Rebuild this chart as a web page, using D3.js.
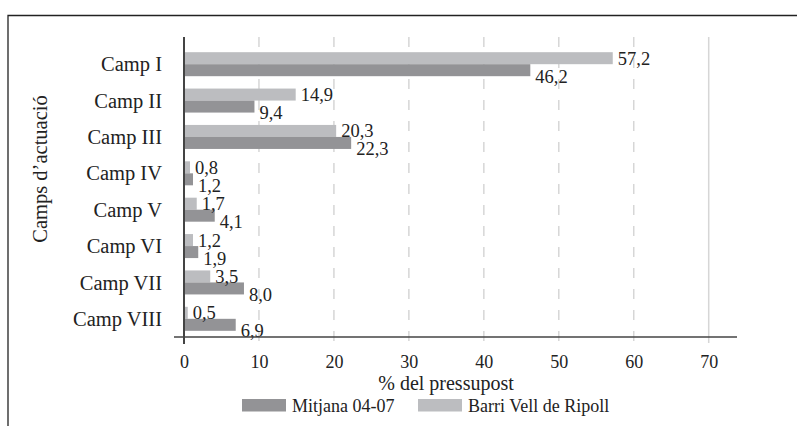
<!DOCTYPE html>
<meta charset="UTF-8"/>
<style>
  body { margin: 0; background: #fff; }
  * { font-family: 'Liberation Serif', 'Times New Roman', serif; }
</style>
<svg width="797" height="426" font-family="'Liberation Serif', serif"></svg>
<script src="https://d3js.org/d3.v7.min.js"></script>
<script>
var categories = ["Camp I", "Camp II", "Camp III", "Camp IV", "Camp V", "Camp VI", "Camp VII", "Camp VIII"];
var barriVell = [57.2, 14.9, 20.3, 0.8, 1.7, 1.2, 3.5, 0.5];
var mitjana = [46.2, 9.4, 22.3, 1.2, 4.1, 1.9, 8.0, 6.9];
var xTicks = [0, 10, 20, 30, 40, 50, 60, 70];
var seriesNames = ["Barri Vell de Ripoll", "Mitjana 04-07"];
var colors = {"Barri Vell de Ripoll": "#bcbdc0", "Mitjana 04-07": "#939396"};

var svg = d3.select("svg");

// frame (top + left edge only visible)
svg.append("path")
    .attr("d", "M8,426V15.5H797")
    .attr("fill", "none")
    .attr("stroke", "#222")
    .attr("stroke-width", 1.3);

var x = d3.scaleLinear().domain([0, 70]).range([184, 708.7]);
var y = d3.scaleBand().domain(categories).range([46, 337])
    .paddingInner(0.34).paddingOuter(0.17);
var ySub = d3.scaleBand().domain(seriesNames).range([0, y.bandwidth()]);

var fmt = function(v) { return d3.format(".1f")(v).replace(".", ","); };

// gridlines
svg.append("g").selectAll("line")
    .data(xTicks.slice(1))
  .enter().append("line")
    .attr("x1", function(d) { return x(d); })
    .attr("x2", function(d) { return x(d); })
    .attr("y1", 37)
    .attr("y2", 343)
    .attr("stroke", "#d6d6d6")
    .attr("stroke-width", 1.5)
    .attr("stroke-dasharray", function(d) { return d === 70 ? null : "10,11"; });

var rows = categories.map(function(c, i) {
  return {cat: c, values: [
    {key: seriesNames[0], value: barriVell[i]},
    {key: seriesNames[1], value: mitjana[i]}
  ]};
});

var grp = svg.append("g").selectAll("g")
    .data(rows)
  .enter().append("g")
    .attr("transform", function(d) { return "translate(0," + y(d.cat) + ")"; });

grp.selectAll("rect")
    .data(function(d) { return d.values; })
  .enter().append("rect")
    .attr("x", x(0))
    .attr("y", function(d) { return ySub(d.key); })
    .attr("width", function(d) { return x(d.value) - x(0); })
    .attr("height", ySub.bandwidth())
    .attr("fill", function(d) { return colors[d.key]; });

grp.selectAll("text.val")
    .data(function(d) { return d.values; })
  .enter().append("text")
    .attr("class", "val")
    .attr("x", function(d) { return x(d.value) + 5; })
    .attr("y", function(d, i) { return ySub(d.key) + ySub.bandwidth() / 2 + (i === 0 ? 0 : 6); })
    .attr("dy", "0.35em")
    .style("font-size", "18.5px")
    .attr("fill", "#222")
    .text(function(d) { return fmt(d.value); });

// category labels
svg.append("g").selectAll("text")
    .data(categories)
  .enter().append("text")
    .attr("x", 162)
    .attr("y", function(d) { return y(d) + y.bandwidth() / 2; })
    .attr("dy", "0.35em")
    .attr("text-anchor", "end")
    .style("font-size", "20.5px")
    .attr("fill", "#222")
    .text(function(d) { return d; });

// axes lines
svg.append("line")
    .attr("x1", 174).attr("x2", 737)
    .attr("y1", 337).attr("y2", 337)
    .attr("stroke", "#444").attr("stroke-width", 1.6);
svg.append("line")
    .attr("x1", x(0)).attr("x2", x(0))
    .attr("y1", 37).attr("y2", 344)
    .attr("stroke", "#444").attr("stroke-width", 2);

// tick labels
var xAxis = svg.append("g")
    .attr("transform", "translate(0,337)")
    .call(d3.axisBottom(x).tickValues(xTicks).tickSize(0).tickFormat(d3.format("d")))
    .attr("font-family", null)
    .attr("font-size", null);
xAxis.select(".domain").remove();
xAxis.selectAll("text")
    .attr("y", 31)
    .attr("dy", 0)
    .style("font-size", "18px")
    .style("font-family", "'Liberation Serif', serif")
    .attr("fill", "#222");

// axis titles
svg.append("text")
    .attr("x", 446)
    .attr("y", 390)
    .attr("text-anchor", "middle")
    .style("font-size", "20px")
    .attr("fill", "#222")
    .text("% del pressupost");

svg.append("text")
    .attr("transform", "translate(47,169) rotate(-90)")
    .attr("text-anchor", "middle")
    .style("font-size", "20.5px")
    .attr("fill", "#222")
    .text("Camps d\u2019actuació");

// legend
var legendItems = [
  {key: "Mitjana 04-07", x: 242},
  {key: "Barri Vell de Ripoll", x: 418}
];
var leg = svg.append("g").selectAll("g")
    .data(legendItems)
  .enter().append("g")
    .attr("transform", function(d) { return "translate(" + d.x + ",399)"; });
leg.append("rect")
    .attr("width", 44)
    .attr("height", 12.5)
    .attr("fill", function(d) { return colors[d.key]; });
leg.append("text")
    .attr("x", 50)
    .attr("y", 13)
    .style("font-size", "18px")
    .attr("fill", "#222")
    .text(function(d) { return d.key; });
</script>
